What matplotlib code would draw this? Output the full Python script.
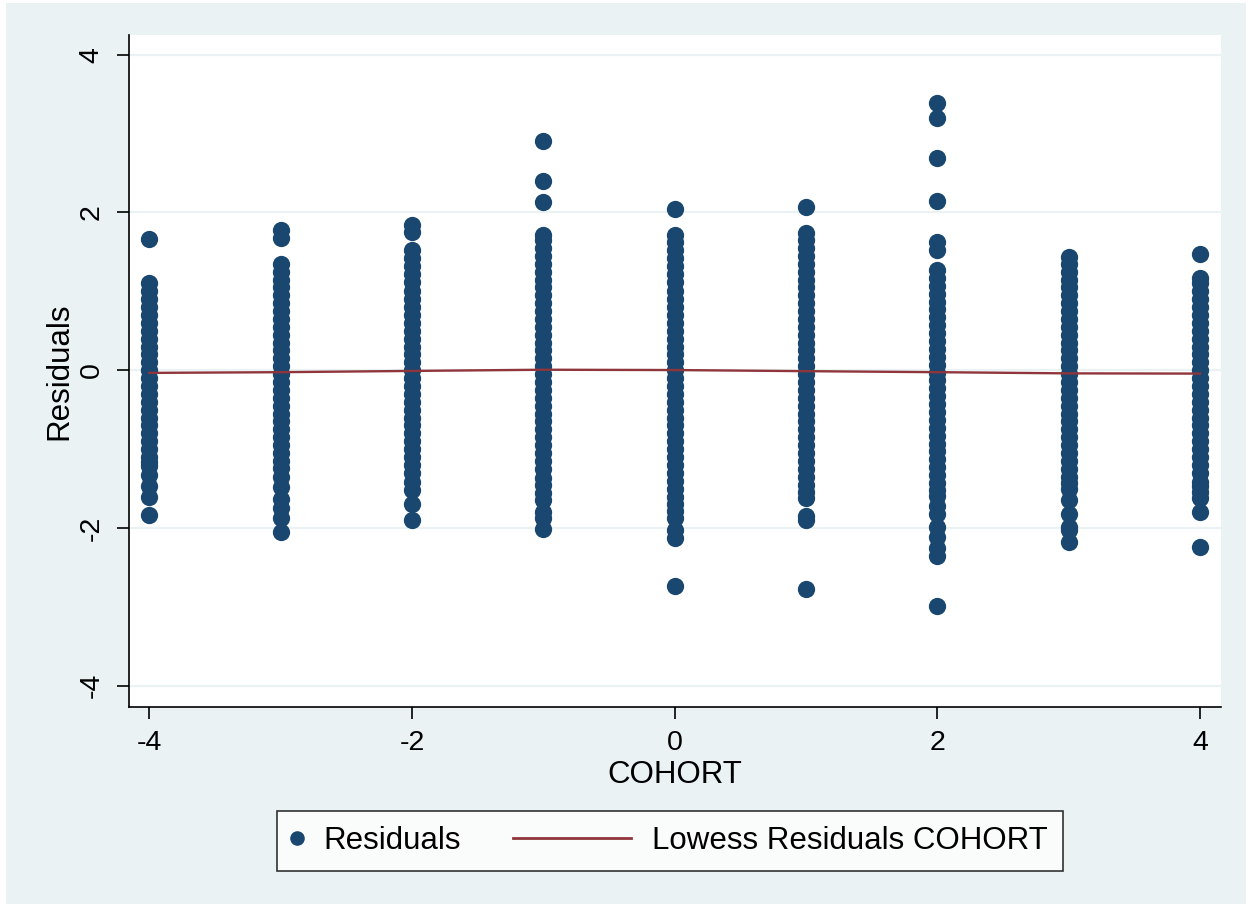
import numpy as np
import matplotlib
matplotlib.use("Agg")
import matplotlib.pyplot as plt
from matplotlib.lines import Line2D
from matplotlib.patches import Rectangle
from matplotlib.legend_handler import HandlerBase

plt.rcParams['font.family'] = ['Liberation Sans', 'DejaVu Sans']
plt.rcParams['axes.unicode_minus'] = False

NAVY = '#1a476f'
MAROON = '#90353b'
PANEL = '#eaf2f3'

cohorts = [-4, -3, -2, -1, 0, 1, 2, 3, 4]

# residuals per cohort, top to bottom
res_m4 = [1.66, 1.11, 1.0, 0.9, 0.8, 0.7, 0.6, 0.5, 0.4, 0.3, 0.2, 0.1, 0.0,
          -0.1, -0.2, -0.3, -0.4, -0.5, -0.6, -0.7, -0.8, -0.9, -1.0, -1.1,
          -1.16, -1.22, -1.33, -1.47, -1.61, -1.84]
res_m3 = [1.78, 1.68, 1.35, 1.25, 1.15, 1.05, 0.95, 0.85, 0.75, 0.65, 0.55,
          0.45, 0.35, 0.25, 0.15, 0.05, -0.05, -0.15, -0.25, -0.35, -0.45,
          -0.55, -0.65, -0.75, -0.85, -0.95, -1.05, -1.15, -1.24, -1.35,
          -1.48, -1.63, -1.75, -1.88, -2.05]
res_m2 = [1.84, 1.75, 1.52, 1.42, 1.32, 1.22, 1.12, 1.0, 0.9, 0.8, 0.7, 0.6,
          0.5, 0.4, 0.3, 0.2, 0.1, 0.0, -0.1, -0.2, -0.3, -0.4, -0.5, -0.6,
          -0.7, -0.8, -0.9, -1.0, -1.1, -1.2, -1.3, -1.42, -1.52, -1.69,
          -1.9]
res_m1 = [2.91, 2.40, 2.13, 1.72, 1.65, 1.55, 1.45, 1.35, 1.25, 1.15, 1.05,
          0.95, 0.85, 0.75, 0.65, 0.55, 0.45, 0.35, 0.25, 0.15, 0.05, -0.05,
          -0.15, -0.25, -0.35, -0.45, -0.55, -0.65, -0.75, -0.85, -0.95,
          -1.05, -1.15, -1.25, -1.37, -1.45, -1.56, -1.65, -1.80, -1.88,
          -2.01]
res_0 = [2.05, 1.72, 1.62, 1.52, 1.42, 1.32, 1.22, 1.12, 1.0, 0.9, 0.8, 0.7,
         0.6, 0.5, 0.4, 0.3, 0.2, 0.1, 0.0, -0.1, -0.2, -0.3, -0.4, -0.5,
         -0.6, -0.7, -0.8, -0.9, -1.0, -1.1, -1.2, -1.3, -1.41, -1.5, -1.61,
         -1.7, -1.78, -1.88, -2.03, -2.13, -2.73]
res_1 = [2.07, 1.74, 1.65, 1.55, 1.45, 1.35, 1.25, 1.15, 1.05, 0.95, 0.85,
         0.75, 0.65, 0.55, 0.45, 0.35, 0.25, 0.15, 0.05, -0.05, -0.15, -0.25,
         -0.35, -0.45, -0.55, -0.65, -0.75, -0.85, -0.95, -1.05, -1.15,
         -1.25, -1.35, -1.45, -1.55, -1.62, -1.85, -1.90, -2.77]
res_2 = [3.39, 3.20, 2.69, 2.14, 1.63, 1.52, 1.27, 1.17, 1.07, 0.97, 0.87,
         0.77, 0.67, 0.57, 0.47, 0.37, 0.27, 0.17, 0.07, -0.03, -0.13,
         -0.23, -0.33, -0.43, -0.53, -0.63, -0.73, -0.83, -0.93, -1.03,
         -1.13, -1.23, -1.33, -1.43, -1.52, -1.6, -1.72, -1.82, -1.99,
         -2.11, -2.26, -2.35, -2.99]
res_3 = [1.43, 1.35, 1.25, 1.15, 1.05, 0.95, 0.85, 0.75, 0.65, 0.55, 0.45,
         0.35, 0.25, 0.15, 0.05, -0.05, -0.15, -0.25, -0.35, -0.45, -0.55,
         -0.65, -0.75, -0.85, -0.95, -1.05, -1.15, -1.25, -1.35, -1.43,
         -1.50, -1.65, -1.82, -1.99, -2.03, -2.18]
res_4 = [1.47, 1.17, 1.10, 1.0, 0.9, 0.8, 0.7, 0.6, 0.5, 0.4, 0.3, 0.2, 0.1,
         0.0, -0.1, -0.2, -0.3, -0.4, -0.5, -0.6, -0.7, -0.8, -0.9, -1.0,
         -1.1, -1.2, -1.3, -1.42, -1.47, -1.55, -1.62, -1.80, -2.24]

residuals = [res_m4, res_m3, res_m2, res_m1, res_0, res_1, res_2, res_3, res_4]

# lowess smooth of residuals on cohort
lowess_y = [-0.034, -0.025, -0.009, 0.006, 0.002, -0.012, -0.025, -0.04, -0.043]

TICK_FS = 20.5
LABEL_FS = 22.5


class LongLineHandler(HandlerBase):
    """Draws the legend line reaching left past its (narrow) handle box."""
    def __init__(self, length_em):
        super().__init__()
        self.length_em = length_em

    def create_artists(self, legend, orig_handle, xdescent, ydescent,
                       width, height, fontsize, trans):
        y = height / 2 - ydescent
        x1 = width - xdescent
        x0 = x1 - self.length_em * fontsize
        line = Line2D([x0, x1], [y, y], color=orig_handle.get_color(),
                      lw=orig_handle.get_linewidth(), transform=trans)
        return [line]


fig = plt.figure(figsize=(12.51, 9.07), dpi=100, facecolor='white')
fig.patches.append(Rectangle((6 / 1251, 3 / 907), 1240 / 1251, 901 / 907,
                             transform=fig.transFigure, facecolor=PANEL,
                             edgecolor='none', zorder=-10))

ax = fig.add_axes([129 / 1251, 1 - 707 / 907, 1092 / 1251, 672 / 907])
ax.set_facecolor('white')

for c, vals in zip(cohorts, residuals):
    ax.scatter([c] * len(vals), vals, s=155, color=NAVY, linewidths=0,
               zorder=3)
ax.plot(cohorts, lowess_y, color=MAROON, lw=1.7, zorder=4)

ax.set_xlim(-4.155, 4.16)
ax.set_ylim(-4.27, 4.25)
ax.set_xticks([-4, -2, 0, 2, 4])
ax.set_yticks([-4, -2, 0, 2, 4])
ax.grid(axis='y', color=PANEL, lw=1.6, zorder=0)
ax.set_axisbelow(True)

for side in ['top', 'right']:
    ax.spines[side].set_visible(False)
for side in ['left', 'bottom']:
    ax.spines[side].set_linewidth(1.2)

ax.tick_params(axis='both', length=8.5, width=1.2, labelsize=TICK_FS,
               direction='out')
ax.tick_params(axis='x', pad=8)
ax.tick_params(axis='y', pad=9, labelrotation=90)
for lbl in ax.get_yticklabels():
    lbl.set_verticalalignment('center')

ax.set_xlabel('COHORT', fontsize=LABEL_FS)
ax.set_ylabel('Residuals', fontsize=LABEL_FS)
ax.xaxis.set_label_coords(0.5, -0.0795)
ax.yaxis.set_label_coords(-0.050, 0.5)

dot = Line2D([], [], marker='o', ls='none', markersize=10.5, color=NAVY,
             markeredgewidth=0)
lowess_line = Line2D([], [], color=MAROON, lw=2.0)
leg = fig.legend([dot, lowess_line], ['Residuals', 'Lowess Residuals COHORT'],
                 loc='center', bbox_to_anchor=(670 / 1251, 1 - 841 / 907),
                 ncol=2, fontsize=LABEL_FS, frameon=True, fancybox=False,
                 handlelength=0.33, handletextpad=0.69, columnspacing=5.1,
                 borderpad=0.47, borderaxespad=0,
                 handler_map={lowess_line: LongLineHandler(3.76)})
leg.get_frame().set_edgecolor('black')
leg.get_frame().set_linewidth(1.2)
leg.get_frame().set_facecolor('white')

fig.savefig('out.png', dpi=100, facecolor=fig.get_facecolor())
